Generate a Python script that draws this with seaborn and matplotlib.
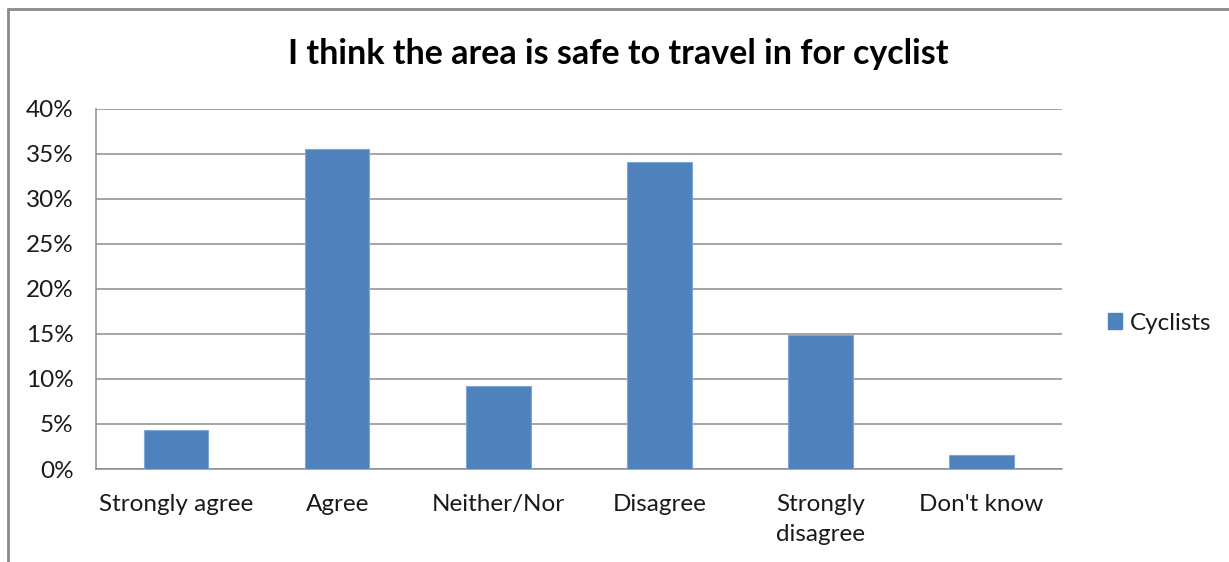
import matplotlib
matplotlib.use("Agg")
import matplotlib.pyplot as plt
from matplotlib.lines import Line2D
from matplotlib.patches import Patch
import seaborn as sns
import pandas as pd

categories = ["Strongly agree", "Agree", "Neither/Nor", "Disagree",
              "Strongly\ndisagree", "Don't know"]
cyclists = [4.3, 35.5, 9.2, 34.1, 14.9, 1.5]
y_ticks = [0, 5, 10, 15, 20, 25, 30, 35, 40]
y_tick_labels = [f"{v}%" for v in y_ticks]
title = "I think the area is safe to travel in for cyclist"
series_name = "Cyclists"

bar_color = "#4F81BD"
grid_color = "#8C8C8C"
text_color = "#1A1A1A"

sns.set_theme(style="white")
plt.rcParams["font.family"] = ["Lato", "DejaVu Sans"]

df = pd.DataFrame({"category": categories, "value": cyclists})

fig = plt.figure(figsize=(12.29, 5.62), dpi=100)
ax = fig.add_axes([95.7 / 1229, 1 - 469 / 562, (1062 - 95.7) / 1229, (469 - 108.5) / 562])

sns.barplot(data=df, x="category", y="value", color=bar_color, width=0.4,
            edgecolor="#7FA6D6", linewidth=0.8, saturation=1, ax=ax, zorder=3)

ax.set_ylim(0, 40)
ax.set_xlim(-0.5, len(categories) - 0.5)
ax.set_yticks(y_ticks)
ax.set_yticklabels(y_tick_labels)
ax.set_xlabel("")
ax.set_ylabel("")
ax.yaxis.grid(True, color=grid_color, linewidth=1.1, zorder=0)
ax.set_axisbelow(True)

for side in ["top", "right"]:
    ax.spines[side].set_visible(False)
for side in ["left", "bottom"]:
    ax.spines[side].set_color(grid_color)
    ax.spines[side].set_linewidth(1.1)

ax.tick_params(axis="both", length=0, labelsize=17.5, colors=text_color)
ax.tick_params(axis="y", pad=16)
ax.tick_params(axis="x", pad=18)
for lbl in ax.get_xticklabels():
    lbl.set_linespacing(1.55)

fig.text(0.503, 1 - 54 / 562, title, ha="center", va="center",
         fontsize=24.5, fontweight="bold", color="black")

handles = [Patch(facecolor=bar_color, edgecolor=bar_color, label=series_name)]
fig.legend(handles=handles, loc="center left", bbox_to_anchor=(1086 / 1229, 1 - 323 / 562),
           frameon=False, fontsize=17.5, handlelength=0.6, handleheight=0.6,
           handletextpad=0.3, labelcolor=text_color)

# chart frame
fig.add_artist(Line2D([8 / 1229, 8 / 1229], [0, 1 - 9 / 562], transform=fig.transFigure,
                      color="#8A8A8A", linewidth=2))
fig.add_artist(Line2D([8 / 1229, 1], [1 - 9 / 562, 1 - 9 / 562], transform=fig.transFigure,
                      color="#8A8A8A", linewidth=2))

fig.savefig("out.png", dpi=100, facecolor="white")
